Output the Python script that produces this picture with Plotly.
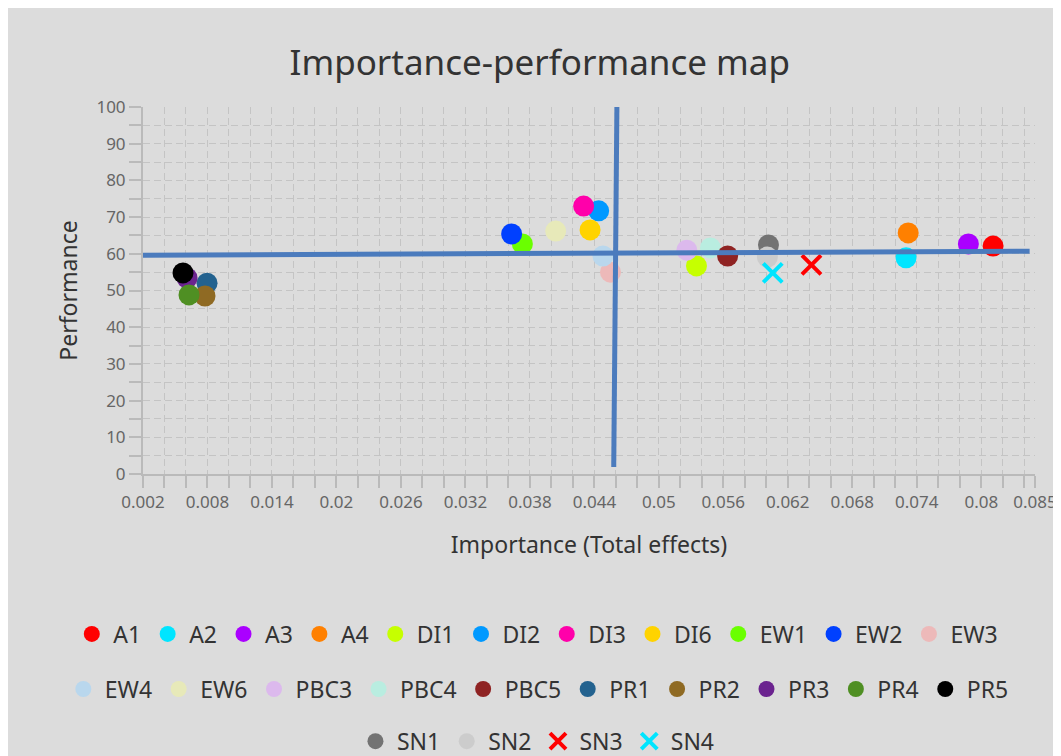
import plotly.graph_objects as go

# ---- data ----
names = ["A1", "A2", "A3", "A4", "DI1", "DI2", "DI3", "DI6", "EW1", "EW2", "EW3",
         "EW4", "EW6", "PBC3", "PBC4", "PBC5", "PR1", "PR2", "PR3", "PR4", "PR5",
         "SN1", "SN2", "SN3", "SN4"]
importance = [0.0811, 0.0730, 0.0788, 0.0732, 0.0535, 0.0444, 0.0430, 0.0436, 0.0373, 0.0363, 0.0455,
              0.0448, 0.0404, 0.0526, 0.0548, 0.0564, 0.00796, 0.00777, 0.0061, 0.00628, 0.00572,
              0.0602, 0.0601, 0.0642, 0.0606]
performance = [62.1, 58.9, 62.7, 65.7, 56.7, 71.7, 73.0, 66.5, 62.7, 65.4, 55.0,
               59.4, 66.2, 61.0, 61.6, 59.4, 52.0, 48.5, 53.4, 48.8, 54.8,
               62.4, 59.1, 57.0, 54.8]
colors = ["#ff0000", "#00e5ff", "#aa00ff", "#ff8000", "#c6ff00", "#0099ff", "#ff00aa", "#ffd300",
          "#6aff00", "#0040ff", "#edb9b9", "#b9d7ed", "#e7e9b9", "#dcb9ed", "#b9ede0", "#8f2323",
          "#23628f", "#8f6a23", "#6b238f", "#4f8f23", "#000000", "#737373", "#cccccc",
          "#ff0000", "#00e5ff"]
symbols = ["circle"] * 23 + ["x-thin", "x-thin"]
legend_rows = [1] * 11 + [2] * 10 + [3] * 4

# mean lines (importance mean / performance mean)
hline_x = [0.002, 0.0845]
hline_y = [59.6, 60.7]
vline_x = [0.0461, 0.0458]
vline_y = [101.5, 1.9]

x_tickvals = [0.002, 0.008, 0.014, 0.02, 0.026, 0.032, 0.038, 0.044, 0.05, 0.056,
              0.062, 0.068, 0.074, 0.08, 0.085]
x_ticktext = ["0.002", "0.008", "0.014", "0.02", "0.026", "0.032", "0.038", "0.044", "0.05",
              "0.056", "0.062", "0.068", "0.074", "0.08", "0.085"]

FONT = "Noto Sans"
BG = "#dcdcdc"
GRID = "#c4c4c4"
AXIS = "#bababa"
LINE_BLUE = "#4b7bbd"
DASH = "7px,4px"

fig = go.Figure()
legend_ids = {1: "legend", 2: "legend2", 3: "legend3"}
for n, x, y, c, s, r in zip(names, importance, performance, colors, symbols, legend_rows):
    if s == "circle":
        marker = dict(size=21, color=c, symbol=s, line=dict(width=0))
    else:
        marker = dict(size=19, color=c, symbol=s, line=dict(width=4, color=c))
    fig.add_trace(go.Scatter(x=[x], y=[y], mode="markers", name=n, marker=marker,
                             legend=legend_ids[r]))

fig.add_trace(go.Scatter(x=hline_x, y=hline_y, mode="lines", showlegend=False,
                         line=dict(color=LINE_BLUE, width=5), hoverinfo="skip"))
fig.add_trace(go.Scatter(x=vline_x, y=vline_y, mode="lines", showlegend=False,
                         line=dict(color=LINE_BLUE, width=5), hoverinfo="skip"))

legend_common = dict(orientation="h", xanchor="left", yanchor="middle",
                     xref="paper", yref="paper", itemwidth=33,
                     font=dict(family=FONT, size=23, color="#333333"),
                     bgcolor="rgba(0,0,0,0)", itemsizing="trace")

fig.update_layout(
    width=1053, height=749,
    paper_bgcolor=BG, plot_bgcolor=BG,
    margin=dict(l=135, r=26, t=99, b=283, autoexpand=False),
    font=dict(family=FONT, color="#555555"),
    title=dict(text="Importance-performance map", x=0.505, xanchor="center",
               y=1 - 55 / 749, yanchor="middle", xref="container", yref="container",
               font=dict(family=FONT, size=35, color="#333333")),
    legend=dict(legend_common, x=-0.0815, y=-0.436),
    legend2=dict(legend_common, x=-0.091, y=-0.586),
    legend3=dict(legend_common, x=0.2365, y=-0.728),
    showlegend=True,
)

fig.update_xaxes(
    range=[0.002, 0.085], tickmode="array", tickvals=x_tickvals, ticktext=x_ticktext,
    tickangle=0, automargin=False,
    showgrid=True, gridcolor=GRID, griddash=DASH, gridwidth=1,
    showline=True, linecolor=AXIS, linewidth=2,
    ticks="outside", ticklen=12, tickcolor=AXIS, tickwidth=2,
    tickfont=dict(family=FONT, size=17, color="#666666"),
    minor=dict(tick0=0.002, dtick=0.002, showgrid=True, gridcolor=GRID, griddash=DASH,
               ticks="outside", ticklen=12, tickcolor=AXIS, tickwidth=2),
    zeroline=False,
    title=dict(text="Importance (Total effects)", standoff=24,
               font=dict(family=FONT, size=23, color="#333333")),
)
fig.update_yaxes(
    range=[0, 100], tick0=0, dtick=10, automargin=False,
    showgrid=True, gridcolor=GRID, griddash=DASH, gridwidth=1,
    showline=True, linecolor=AXIS, linewidth=2,
    ticks="outside", ticklen=12, tickcolor=AXIS, tickwidth=2,
    tickfont=dict(family=FONT, size=17, color="#666666"),
    minor=dict(dtick=5, showgrid=True, gridcolor=GRID, griddash=DASH,
               ticks="outside", ticklen=12, tickcolor=AXIS, tickwidth=2),
    zeroline=False,
    title=dict(text="Performance", standoff=12,
               font=dict(family=FONT, size=23, color="#333333")),
)

fig.write_html("out.html", post_script="document.body.style.overflow='hidden';")
